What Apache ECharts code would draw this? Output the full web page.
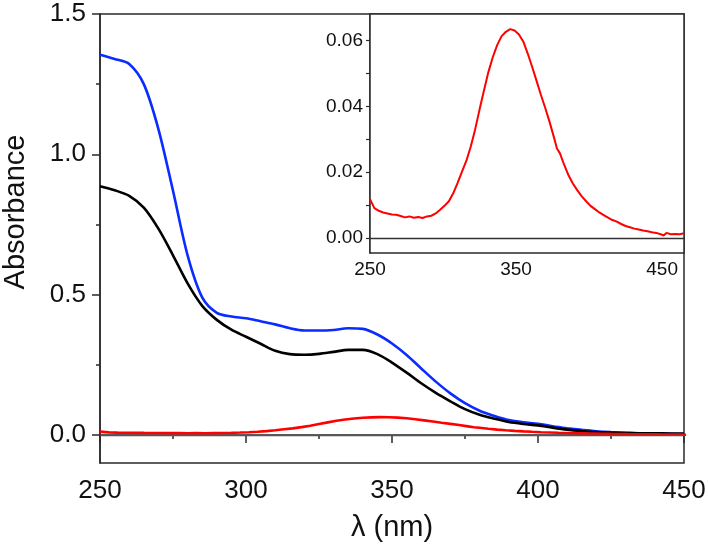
<!DOCTYPE html>
<html>
<head>
<meta charset="utf-8">
<script src="https://cdn.jsdelivr.net/npm/echarts@6/dist/echarts.min.js"></script>
<style>html,body{margin:0;padding:0;background:#fff}#c{width:708px;height:550px}</style>
</head>
<body>
<div id="c"></div>
<script>
var wavelengths = [250,255,260,265,270,275,280,285,290,295,300,305,310,315,320,325,330,335,340,345,350,355,360,365,370,375,380,385,390,395,400,405,410,415,420,425,430,435,440,445,450];
var blueValues = [1.355,1.34,1.322,1.25,1.09,0.87,0.64,0.49,0.435,0.422,0.416,0.405,0.394,0.38,0.372,0.372,0.374,0.38,0.378,0.358,0.326,0.285,0.237,0.19,0.148,0.113,0.086,0.068,0.053,0.045,0.040,0.031,0.024,0.018,0.013,0.010,0.008,0.006,0.005,0.004,0.003];
var blackValues = [0.886,0.872,0.852,0.81,0.735,0.64,0.54,0.46,0.41,0.375,0.35,0.325,0.30,0.288,0.286,0.289,0.296,0.303,0.303,0.288,0.258,0.222,0.184,0.15,0.12,0.092,0.072,0.058,0.046,0.039,0.034,0.026,0.019,0.014,0.010,0.008,0.007,0.006,0.006,0.005,0.005];
var redWavelengths = [250,253,256,259,262,265,268,271,274,277,280,283,286,289,292,295,298,301,304,307,310,313,316,319,322,325,328,331,334,337,340,343,346,349,352,355,358,361,364,367,370,373,376,378,380,383,386,389,392,395,398,401,404,407,410,413,416,419,422,425,428,431,434,437,440,443,446,449,451,453,456,459,462,465];
var redValues = [0.0118,0.0091,0.0083,0.0078,0.0075,0.0072,0.0071,0.0067,0.0063,0.0066,0.0062,0.0064,0.0061,0.0066,0.0068,0.0075,0.0086,0.0098,0.0112,0.0136,0.0168,0.0202,0.0235,0.0278,0.0330,0.0390,0.0447,0.0503,0.0548,0.0585,0.0612,0.0626,0.0634,0.0630,0.0618,0.0596,0.0560,0.0520,0.0478,0.0435,0.0395,0.0352,0.0305,0.0272,0.0258,0.0222,0.0190,0.0165,0.0145,0.0127,0.0112,0.0098,0.0088,0.0078,0.0070,0.0062,0.0055,0.0050,0.0043,0.0037,0.0033,0.0029,0.0026,0.0023,0.0021,0.0018,0.0016,0.0012,0.0008,0.0016,0.0012,0.0013,0.0012,0.0015];
var mainYLabels = [0, 0.5, 1.0, 1.5];
var mainYMinor = [0.25, 0.75, 1.25];
var insetXLabels = [250, 350, 450];
var insetXTicks = [250, 300, 350, 400, 450];
var insetYLabels = [0, 0.02, 0.04, 0.06];
var insetYTicks = [0, 0.01, 0.02, 0.03, 0.04, 0.05, 0.06];

function pairs(xs, ys) { return xs.map(function (x, i) { return [x, ys[i]]; }); }

var FONT = "'Liberation Sans', Arial, sans-serif";
var AX = '#2a2a2a';

var chart = echarts.init(document.getElementById('c'), null, { renderer: 'canvas' });
chart.setOption({
  animation: false,
  backgroundColor: '#fff',
  grid: [
    { left: 100, top: 14, right: 24, bottom: 87, show: true, borderColor: AX, borderWidth: 1.5, backgroundColor: 'transparent', outerBoundsMode: 'none', containLabel: false },
    { left: 370, top: 14, right: 24, bottom: 297, show: true, borderColor: AX, borderWidth: 1.5, backgroundColor: '#fff', z: 5, outerBoundsMode: 'none', containLabel: false }
  ],
  xAxis: [
    {
      gridIndex: 0, type: 'value', min: 250, max: 450, interval: 50,
      name: 'λ (nm)', nameLocation: 'middle', nameGap: 50,
      nameTextStyle: { fontFamily: FONT, fontSize: 29, color: '#111' },
      axisLine: { lineStyle: { color: AX, width: 1.5 } },
      axisTick: { length: 8, lineStyle: { color: AX, width: 1.5 } },
      minorTick: { show: true, splitNumber: 2, length: 4, lineStyle: { color: AX, width: 1.5 } },
      axisLabel: { fontFamily: FONT, fontSize: 26, color: '#111', margin: 15 },
      splitLine: { show: false }
    },
    {
      gridIndex: 1, type: 'value', min: 250, max: 465,
      axisLine: { lineStyle: { color: AX, width: 1.5 } },
      axisTick: { length: 4, customValues: insetXTicks, lineStyle: { color: AX, width: 1.2 } },
      axisLabel: { fontFamily: FONT, fontSize: 19, color: '#111', margin: 7, customValues: insetXLabels, hideOverlap: false },
      splitLine: { show: false }
    }
  ],
  yAxis: [
    {
      gridIndex: 0, type: 'value', min: -0.1, max: 1.5,
      name: 'Absorbance', nameLocation: 'middle', nameGap: 70,
      nameTextStyle: { fontFamily: FONT, fontSize: 29, color: '#111', padding: [0, 0, 0, 53] },
      axisLine: { show: true, lineStyle: { color: AX, width: 1.5 } },
      axisTick: { show: true, length: 8, customValues: mainYLabels, lineStyle: { color: AX, width: 1.5 } },
      axisLabel: { fontFamily: FONT, fontSize: 26, color: '#111', margin: 14, customValues: mainYLabels,
        formatter: function (v) { return v.toFixed(1); } },
      splitLine: { show: false }
    },
    {
      gridIndex: 0, type: 'value', min: -0.1, max: 1.5, position: 'left',
      axisLine: { show: false },
      axisTick: { show: true, length: 4, customValues: mainYMinor, lineStyle: { color: AX, width: 1.5 } },
      axisLabel: { show: false },
      splitLine: { show: false }
    },
    {
      gridIndex: 1, type: 'value', min: -0.0045, max: 0.068,
      axisLine: { show: true, lineStyle: { color: AX, width: 1.5 } },
      axisTick: { show: true, length: 4, customValues: insetYTicks, lineStyle: { color: AX, width: 1.2 } },
      axisLabel: { fontFamily: FONT, fontSize: 19, color: '#111', margin: 7, customValues: insetYLabels,
        formatter: function (v) { return v.toFixed(2); } },
      splitLine: { show: false }
    }
  ],
  series: [
    {
      type: 'line', xAxisIndex: 0, yAxisIndex: 0, data: pairs(wavelengths, blackValues),
      showSymbol: false, smooth: 0.3, lineStyle: { color: '#000', width: 2.6 }, z: 3,
      markLine: { silent: true, symbol: 'none', label: { show: false },
        lineStyle: { color: '#555', width: 1.3, type: 'solid' }, data: [{ yAxis: 0 }] }
    },
    {
      type: 'line', xAxisIndex: 0, yAxisIndex: 0, data: pairs(wavelengths, blueValues),
      showSymbol: false, smooth: 0.3, lineStyle: { color: '#0a2cff', width: 2.6 }, z: 2
    },
    {
      type: 'line', xAxisIndex: 0, yAxisIndex: 0, data: pairs(redWavelengths, redValues),
      showSymbol: false, lineStyle: { color: '#ff0000', width: 2.6 }, z: 4
    },
    {
      type: 'line', xAxisIndex: 1, yAxisIndex: 2, data: pairs(redWavelengths, redValues),
      showSymbol: false, lineStyle: { color: '#ff0000', width: 2 }, z: 6,
      markLine: { silent: true, symbol: 'none', label: { show: false },
        lineStyle: { color: '#333', width: 1.3, type: 'solid' }, data: [{ yAxis: 0 }] }
    }
  ]
});
</script>
</body>
</html>
